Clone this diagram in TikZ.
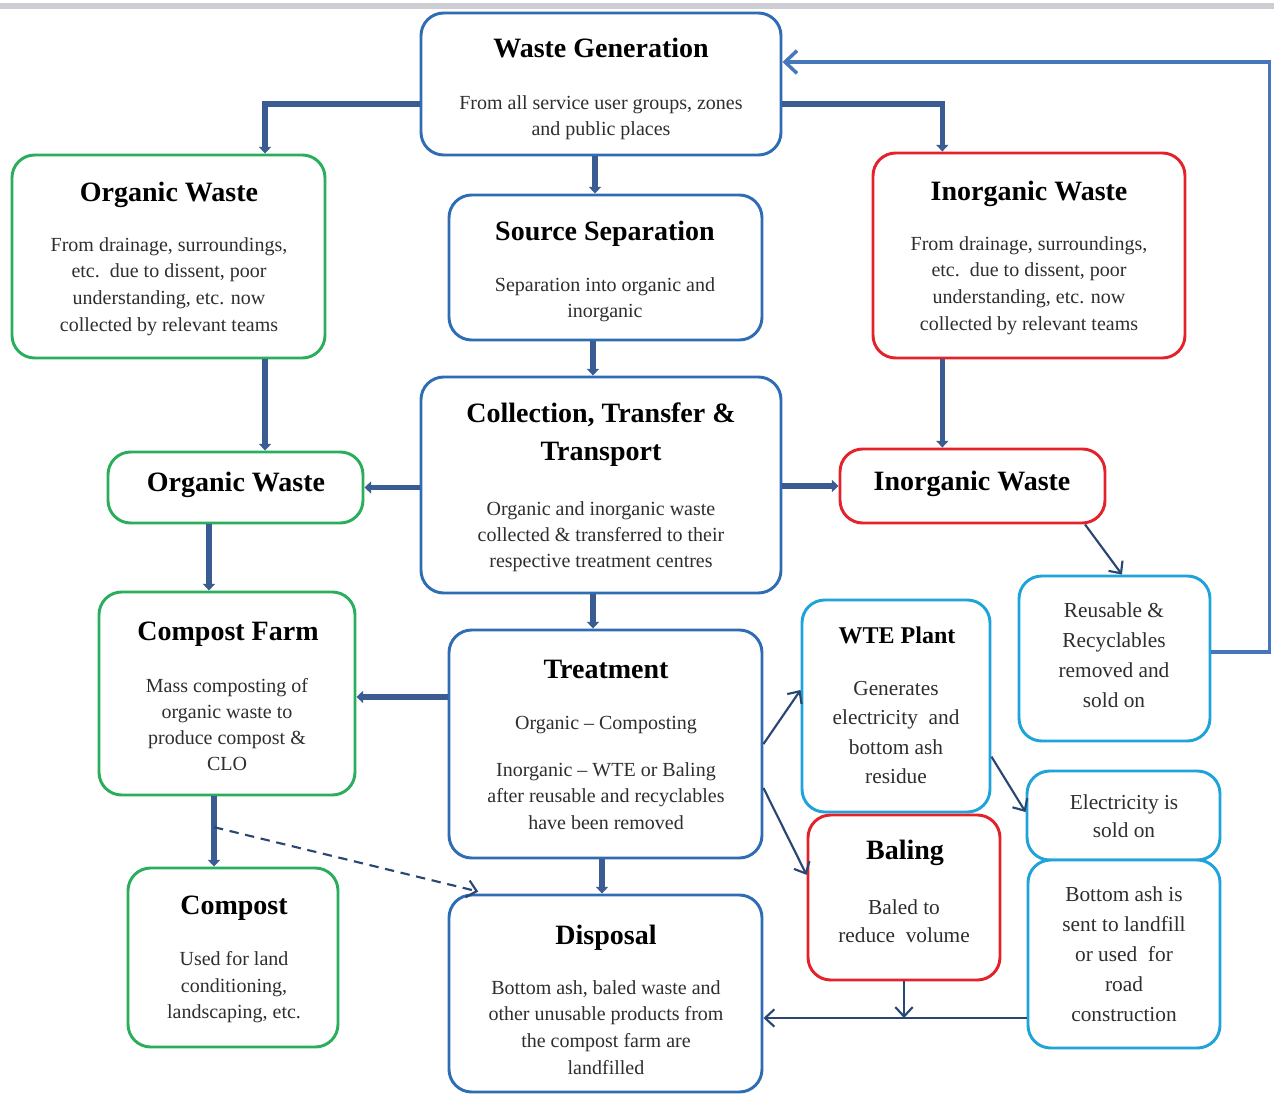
\documentclass[tikz,border=0pt]{standalone}
\usepackage{fontspec}
\setmainfont{Liberation Serif}
\usetikzlibrary{arrows.meta}

\definecolor{dblue}{HTML}{2E6DB4}
\definecolor{lblue}{HTML}{1FA3DB}
\definecolor{ggreen}{HTML}{2BAE5C}
\definecolor{rred}{HTML}{E3222C}
\definecolor{link}{HTML}{3A5C93}
\definecolor{flowc}{HTML}{2A4673}
\definecolor{loopc}{HTML}{4677BA}
\definecolor{topbar}{HTML}{CDCDD3}

% rounded box from its corner coordinates (pixel units)
\newcommand\bx[6]{\node[box=#2, minimum width={(#5-#3)*0.75pt}, minimum height={(#6-#4)*0.75pt}] (#1) at ({(#3+#5)/2},{(#4+#6)/2}) {};}

\tikzset{
  box/.style={draw=#1, line width=2.2pt, rounded corners=17pt, fill=white, inner sep=0pt},
  ttl/.style={font=\fontsize{21}{26}\selectfont\bfseries, anchor=base, inner sep=0pt, yshift=-1.5pt},
  ttlsm/.style={ttl, font=\fontsize{18}{22}\selectfont\bfseries},
  ttltwo/.style={font=\fontsize{21}{28.5}\selectfont\bfseries, align=center, anchor=north, yshift=15pt, inner sep=0pt, execute at begin node={\rule{0pt}{17pt}}},
  bod/.style={font=\fontsize{15}{20}\selectfont, align=center, anchor=north, yshift=9pt, inner sep=0pt, text=black!82, execute at begin node={\rule{0pt}{12pt}}},
  bodw/.style={bod, font=\fontsize{16}{22.5}\selectfont},
  conn/.style={draw=link, line width=4pt, -{Triangle[length=5pt,width=9pt]}},
  flow/.style={draw=flowc, line width=1.6pt, -{Straight Barb[length=7pt,width=13pt]}},
}

\begin{document}
\begin{tikzpicture}[x=0.75pt,y=-0.75pt]
\useasboundingbox (0,0) rectangle (1274,1095);
\fill[white] (0,0) rectangle (1274,1095);
\fill[topbar] (0,3) rectangle (1274,9);

% boxes
\bx{wg}{dblue}{421}{13}{781}{155}
\bx{ow1}{ggreen}{12}{155}{325}{358}
\bx{ss}{dblue}{449}{195}{762}{340}
\bx{iw1}{rred}{873}{153}{1185}{358}
\bx{ctt}{dblue}{421}{377}{781}{593}
\bx{ow2}{ggreen}{108}{452}{363}{523}
\bx{iw2}{rred}{840}{449}{1105}{523}
\bx{cf}{ggreen}{99}{592}{355}{795}
\bx{tr}{dblue}{449}{630}{762}{858}
\bx{wte}{lblue}{802}{600}{990}{812}
\bx{reu}{lblue}{1019}{576}{1210}{741}
\bx{el}{lblue}{1027}{771}{1220}{860}
\bx{bal}{rred}{808}{815}{1000}{980}
\bx{ba}{lblue}{1028}{860}{1220}{1048}
\bx{cp}{ggreen}{128}{868}{338}{1047}
\bx{dp}{dblue}{449}{895}{762}{1092}

% texts
\node[ttl] (wg-t) at (601,56) {Waste Generation};
\node[bod, font=\fontsize{15}{19.5}\selectfont] (wg-b) at (601,107) {From all service user groups, zones\\and public places};

\node[ttl] (ow1-t) at (169,199) {Organic Waste};
\node[bod] (ow1-b) at (169,249) {From drainage, surroundings,\\etc.\ \ due to dissent, poor\\understanding, etc. now\\collected by relevant teams};

\node[ttl] (ss-t) at (605,238) {Source Separation};
\node[bod] (ss-b) at (605,289) {Separation into organic and\\inorganic};

\node[ttl] (iw1-t) at (1029,198) {Inorganic Waste};
\node[bod] (iw1-b) at (1029,248) {From drainage, surroundings,\\etc.\ \ due to dissent, poor\\understanding, etc. now\\collected by relevant teams};

\node[ttltwo] (ctt-t) at (601,423) {Collection, Transfer \&\\Transport};
\node[bod, font=\fontsize{15}{19.8}\selectfont] (ctt-b) at (601,513) {Organic and inorganic waste\\collected \& transferred to their\\respective treatment centres};

\node[ttl] (ow2-t) at (236,489) {Organic Waste};
\node[ttl] (iw2-t) at (972,488) {Inorganic Waste};

\node[ttl] (cf-t) at (228,638) {Compost Farm};
\node[bod, font=\fontsize{15}{19.5}\selectfont] (cf-b) at (227,690) {Mass composting of\\organic waste to\\produce compost \&\\CLO};

\node[ttl] (tr-t) at (606,676) {Treatment};
\node[bod] (tr-b) at (606,728) {Organic -- Composting\\[15pt]Inorganic -- WTE or Baling\\after reusable and recyclables\\have been removed};

\node[ttlsm] (wte-t) at (897,641) {WTE Plant};
\node[bodw, font=\fontsize{16}{22}\selectfont] (wte-b) at (896,693) {Generates\\electricity\ \ and\\bottom ash\\residue};

\node[bodw] (reu-b) at (1114,614) {Reusable \&\\Recyclables\\removed and\\sold on};

\node[bodw, font=\fontsize{16}{21}\selectfont] (el-b) at (1124,806) {Electricity is\\sold on};

\node[ttl] (bal-t) at (905,857) {Baling};
\node[bodw, font=\fontsize{16}{21}\selectfont] (bal-b) at (904,911) {Baled to\\reduce\ \ volume};

\node[bodw] (ba-b) at (1124,898) {Bottom ash is\\sent to landfill\\or used\ \ for\\road\\construction};

\node[ttl] (cp-t) at (234,912) {Compost};
\node[bod] (cp-b) at (234,963) {Used for land\\conditioning,\\landscaping, etc.};

\node[ttl] (dp-t) at (606,942) {Disposal};
\node[bod] (dp-b) at (606,992) {Bottom ash, baled waste and\\other unusable products from\\the compost farm are\\landfilled};

% heavy connectors
\draw[conn] ([yshift=-15pt]wg.west) -| ([xshift=72.4pt]ow1.north);
\draw[conn] ([yshift=-15pt]wg.east) -| ([xshift=-65pt]iw1.north);
\draw[conn] ([xshift=-4.5pt]wg.south) -- ([xshift=-4.5pt]wg.south |- ss.north);
\draw[conn] ([xshift=-9.4pt]ss.south) -- ([xshift=-9.4pt]ss.south |- ctt.north);
\draw[conn] ([xshift=72.4pt]ow1.south) -- ([xshift=72.4pt]ow1.south |- ow2.north);
\draw[conn] ([xshift=-65pt]iw1.south) -- ([xshift=-65pt]iw1.south |- iw2.north);
\draw[conn] (ctt.west |- ow2.east) -- (ow2.east);
\draw[conn] (ctt.east |- iw2.west) -- (iw2.west);
\draw[conn] ([xshift=-19.9pt]ow2.south) -- ([xshift=-19.9pt]ow2.south |- cf.north);
\draw[conn] ([xshift=-6pt]ctt.south) -- ([xshift=-6pt]ctt.south |- tr.north);
\draw[conn] ([yshift=-2.6pt]tr.west |- cf.east) -- ([yshift=-2.6pt]cf.east);
\draw[conn] ([xshift=-2.6pt]tr.south) -- ([xshift=-2.6pt]tr.south |- dp.north);
\draw[conn] ([xshift=-9.75pt]cf.south) -- ([xshift=-9.75pt]cf.south |- cp.north);

% compost farm residue to disposal
\coordinate (cfres) at ([xshift=-9.75pt,yshift=-23pt]cf.south);
\draw[draw=flowc, line width=1.6pt, dash pattern=on 7pt off 5pt, -{Straight Barb[length=7pt,width=13pt]}] (cfres) -- ([xshift=23pt,yshift=1.5pt]dp.north west);

% thin flows
\draw[flow] (tr.east) -- ([yshift=12pt]wte.west);
\draw[flow] ([yshift=-33pt]tr.east) -- ([yshift=17pt]bal.west);
\draw[flow] ([xshift=84.4pt]iw2.south) -- ([xshift=5.6pt]reu.north);
\draw[flow] ([yshift=-38pt]wte.east) -- ([yshift=2.6pt]el.west);

% residues to disposal
\coordinate (ashfrom) at ([yshift=-48pt]ba.west);
\coordinate (merge) at (bal.south |- ashfrom);
\draw[flow] (ashfrom) -- (ashfrom -| dp.east);
\draw[flow] (bal.south) -- (merge);

% recyclables revenue back to generation
\draw[draw=loopc, line width=2.6pt, -{Straight Barb[length=9pt,width=17pt]}] ([yshift=5pt]reu.east) -- ++(58,0) |- ([yshift=16.5pt]wg.east);
\end{tikzpicture}
\end{document}
